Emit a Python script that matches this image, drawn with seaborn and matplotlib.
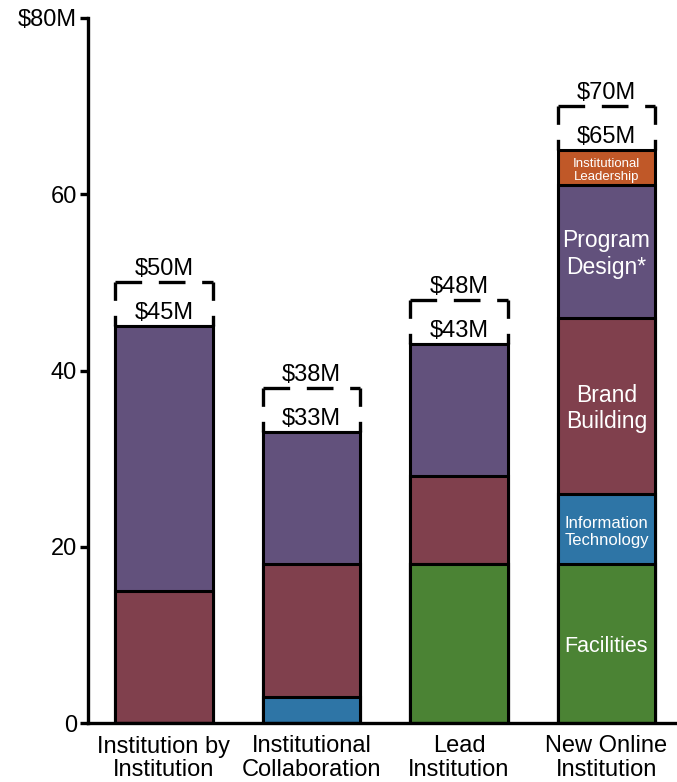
import numpy as np
import matplotlib
matplotlib.use("Agg")
import matplotlib.pyplot as plt
import seaborn as sns

# Funding components per model ($M)
categories = ["Institution by\nInstitution", "Institutional\nCollaboration",
              "Lead\nInstitution", "New Online\nInstitution"]
facilities = [0, 0, 18, 18]
info_tech = [0, 3, 0, 8]
brand_building = [15, 15, 10, 20]
program_design = [30, 15, 15, 15]
leadership = [0, 0, 0, 4]
upside = [5, 5, 5, 5]

y_ticks = [0, 20, 40, 60, 80]
y_tick_labels = ["0", "20", "40", "60", "$80M"]

layers = [facilities, info_tech, brand_building, program_design, leadership]
colors = ["#4B8334", "#2E75A6", "#80404D", "#62517C", "#C05828"]
layer_names = ["Facilities", "Information\nTechnology", "Brand\nBuilding",
               "Program\nDesign*", "Institutional\nLeadership"]
name_sizes = [15.5, 12, 16.5, 16.5, 9.5]

sns.set_style("white")
plt.rcParams["font.family"] = ["Liberation Sans", "DejaVu Sans"]
plt.rcParams["text.color"] = "black"
plt.rcParams["xtick.color"] = "black"
plt.rcParams["ytick.color"] = "black"

fig = plt.figure(figsize=(6.77, 7.82), dpi=100)
ax = fig.add_axes([88 / 677, 59 / 782, 1 - 88 / 677, 705 / 782])

cum = np.cumsum(np.array(layers), axis=0)
bar_w = 0.664

# Stack by drawing cumulative heights from the top layer down
for i in range(len(layers) - 1, -1, -1):
    sns.barplot(x=categories, y=cum[i], order=categories, color=colors[i],
                saturation=1, width=bar_w, edgecolor="black", linewidth=2.2,
                ax=ax)

totals = cum[-1]
ceilings = totals + np.array(upside)

for j, (t, c) in enumerate(zip(totals, ceilings)):
    x0, x1 = j - bar_w / 2, j + bar_w / 2
    dash_side = (0, (5.5, 4.5))
    dash_top = (0, (8.0, 5.0))
    ax.plot([x0, x0], [c, t], color="black", lw=2.4, linestyle=dash_side,
            dash_capstyle="butt")
    ax.plot([x1, x1], [c, t], color="black", lw=2.4, linestyle=dash_side,
            dash_capstyle="butt")
    ax.plot([x0, x1], [c, c], color="black", lw=2.4, linestyle=dash_top,
            dash_capstyle="butt")
    ax.text(j, t + 1.5, f"${t:.0f}M", ha="center", va="center", fontsize=17)
    ax.text(j, c + 1.5, f"${c:.0f}M", ha="center", va="center", fontsize=17)

# Segment names inside the last bar
last = len(categories) - 1
bottoms = np.vstack([np.zeros(len(categories)), cum[:-1]])
for i, name in enumerate(layer_names):
    h = layers[i][last]
    if h > 0:
        ax.text(last, bottoms[i][last] + h / 2 - 0.3, name, ha="center",
                va="center", color="white", fontsize=name_sizes[i],
                linespacing=1.2)

ax.set_ylim(0, 80)
ax.set_xlim(-0.515, 3.478)
ax.set_yticks(y_ticks)
ax.set_yticklabels(y_tick_labels)
ax.set_xlabel("")
ax.set_ylabel("")
ax.tick_params(axis="y", length=6, width=2.4, direction="out", labelsize=17,
               pad=2, left=True)
ax.tick_params(axis="x", length=0, labelsize=17, pad=9)
for lbl in ax.get_xticklabels():
    lbl.set_linespacing(1.08)
for side in ["top", "right"]:
    ax.spines[side].set_visible(False)
for side in ["left", "bottom"]:
    ax.spines[side].set_color("black")
    ax.spines[side].set_linewidth(2.4)

fig.savefig("out.png", dpi=100)
